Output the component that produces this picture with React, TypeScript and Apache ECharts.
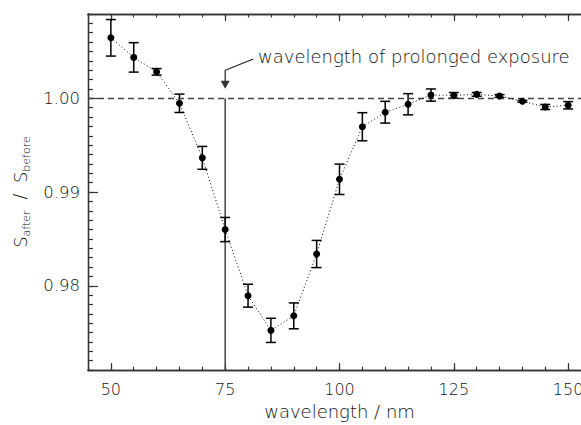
import React, { useEffect, useRef } from "react";
import * as echarts from "echarts";

const wavelengths = [50, 55, 60, 65, 70, 75, 80, 85, 90, 95, 100, 105, 110, 115, 120, 125, 130, 135, 140, 145, 150];
const ratio = [1.00646, 1.00437, 1.00283, 0.99947, 0.99365, 0.986, 0.97894, 0.97524, 0.97679, 0.98339, 0.99136, 0.99697, 0.99852, 0.99937, 1.00035, 1.00032, 1.00042, 1.00025, 0.99968, 0.99908, 0.99926];
const ratioErr = [0.00195, 0.00157, 0.00035, 0.00098, 0.00122, 0.00129, 0.00122, 0.00129, 0.00138, 0.00145, 0.00162, 0.0015, 0.00116, 0.00113, 0.00065, 0.0003, 0.0002, 0.00015, 0.0001, 0.00027, 0.00039];

const xMajorTicks = [50, 75, 100, 125, 150];
const xMinorTicks = [45, 50, 55, 60, 65, 70, 75, 80, 85, 90, 95, 100, 105, 110, 115, 120, 125, 130, 135, 140, 145, 150, 155];
const yMajorTicks = [0.98, 0.99, 1.0];
const yMinorTicks = Array.from({ length: 39 }, (_, i) => (971 + i) / 1000);

const exposureWavelength = 75;
const referenceRatio = 1.0;
const annotationText = "wavelength of prolonged exposure";

const X_MIN = 45, X_MAX = 155, Y_MIN = 0.971, Y_MAX = 1.009;
const FONT = "DejaVu Sans";
const AXIS_COLOR = "#333";
const TEXT_COLOR = "#111";

function xAxisDef(position: string, ticks: number[], len: number, labels: boolean) {
  return {
    type: "value", min: X_MIN, max: X_MAX, position,
    axisLine: { show: true, onZero: false, lineStyle: { color: AXIS_COLOR, width: 1.3 } },
    axisTick: { show: true, inside: true, length: len, customValues: ticks, lineStyle: { color: AXIS_COLOR, width: 1.2 } },
    axisLabel: labels
      ? { show: true, customValues: xMajorTicks, margin: 11, fontFamily: FONT, fontSize: 16, color: TEXT_COLOR, fontWeight: 200 }
      : { show: false },
    splitLine: { show: false },
  };
}
function yAxisDef(position: string, ticks: number[], len: number, labels: boolean) {
  return {
    type: "value", min: Y_MIN, max: Y_MAX, position,
    axisLine: { show: true, onZero: false, lineStyle: { color: AXIS_COLOR, width: 1.3 } },
    axisTick: { show: true, inside: true, length: len, customValues: ticks, lineStyle: { color: AXIS_COLOR, width: 1.2 } },
    axisLabel: labels
      ? { show: true, customValues: yMajorTicks, margin: 8, fontFamily: FONT, fontSize: 16.5, color: TEXT_COLOR, fontWeight: 200,
          formatter: (v: number) => v.toFixed(2) }
      : { show: false },
    splitLine: { show: false },
  };
}

export default function App() {
  const ref = useRef<HTMLDivElement>(null);
  useEffect(() => {
    if (!ref.current) return;
    const chart = echarts.init(ref.current, null, { renderer: "svg" });
    const points = wavelengths.map((w, i) => [w, ratio[i]]);
    const bars = wavelengths.map((w, i) => [w, ratio[i] - ratioErr[i], ratio[i] + ratioErr[i]]);
    const xAxes = [
      { ...xAxisDef("bottom", xMajorTicks, 7, true), name: "wavelength / nm", nameLocation: "middle", nameGap: 25,
        nameTextStyle: { fontFamily: FONT, fontSize: 18, color: TEXT_COLOR, fontWeight: 200, verticalAlign: "top" } },
      xAxisDef("bottom", xMinorTicks, 3.5, false),
      xAxisDef("top", xMajorTicks, 7, false),
      xAxisDef("top", xMinorTicks, 3.5, false),
    ];
    const yAxes = [
      { ...yAxisDef("left", yMajorTicks, 10, true),
        name: "{s|S}{sub|after}{sl|  /  }{s|S}{sub|before}", nameLocation: "middle", nameGap: 50, nameRotate: 90,
        nameTextStyle: { fontFamily: FONT, color: TEXT_COLOR, fontWeight: 200,
          rich: {
            s: { fontFamily: FONT, fontSize: 18, color: TEXT_COLOR, fontWeight: 200, lineHeight: 24, verticalAlign: "middle" },
            sub: { fontFamily: FONT, fontSize: 11, color: TEXT_COLOR, fontWeight: 200, verticalAlign: "bottom", lineHeight: 24 },
            sl: { fontFamily: FONT, fontSize: 17, color: TEXT_COLOR, fontWeight: 200, lineHeight: 24 },
          } } },
      yAxisDef("left", yMinorTicks, 5, false),
      yAxisDef("right", yMajorTicks, 10, false),
      yAxisDef("right", yMinorTicks, 5, false),
    ];
    chart.setOption({
      animation: false,
      backgroundColor: "#fff",
      grid: { left: 88, top: 14, right: 9, bottom: 53, containLabel: false },
      xAxis: xAxes,
      yAxis: yAxes,
      series: [
        {
          type: "line", name: "ratio", data: points, xAxisIndex: 0, yAxisIndex: 0,
          symbol: "circle", symbolSize: 7, z: 5,
          itemStyle: { color: "#000" },
          lineStyle: { color: "#000", width: 1, type: [1, 2.5] },
          markLine: {
            silent: true, symbol: ["none", "none"], label: { show: false },
            lineStyle: { color: "#444", width: 1.3, type: [6, 4] },
            data: [{ yAxis: referenceRatio }],
          },
        },
        {
          type: "custom", name: "error", data: bars, xAxisIndex: 0, yAxisIndex: 0, z: 4,
          renderItem: (params: any, api: any) => {
            const x = api.value(0);
            const lo = api.coord([x, api.value(1)]);
            const hi = api.coord([x, api.value(2)]);
            const hw = 5;
            const st = { stroke: "#000", lineWidth: 1.5 };
            return {
              type: "group",
              children: [
                { type: "line", shape: { x1: hi[0], y1: hi[1], x2: lo[0], y2: lo[1] }, style: st },
                { type: "line", shape: { x1: hi[0] - hw, y1: hi[1], x2: hi[0] + hw, y2: hi[1] }, style: st },
                { type: "line", shape: { x1: lo[0] - hw, y1: lo[1], x2: lo[0] + hw, y2: lo[1] }, style: st },
              ],
            };
          },
        },
        {
          type: "line", name: "exposure", xAxisIndex: 0, yAxisIndex: 0, symbol: "none", silent: true,
          data: [[exposureWavelength, Y_MIN], [exposureWavelength, referenceRatio]],
          lineStyle: { color: "#444", width: 1.5 },
        },
        {
          type: "line", name: "leader", xAxisIndex: 0, yAxisIndex: 0, symbol: "none", silent: true,
          data: [[exposureWavelength, 1.00183], [exposureWavelength, 1.003], [81.15, 1.0042]],
          lineStyle: { color: "#222", width: 1.2 },
        },
        {
          type: "scatter", name: "arrow", xAxisIndex: 0, yAxisIndex: 0, silent: true,
          symbol: "triangle", symbolRotate: 180, symbolSize: [9, 8],
          data: [[exposureWavelength, 1.00145]],
          itemStyle: { color: "#000" },
        },
      ],
      graphic: [
        {
          type: "text", left: 258, top: 47, silent: true,
          style: { text: annotationText, fontFamily: FONT, fontSize: 18, fill: TEXT_COLOR, fontWeight: 200 },
        },
      ],
    });
    return () => chart.dispose();
  }, []);
  return (
    <div style={{ position: "absolute", left: 0, top: 0, width: 581, height: 425, overflow: "hidden", background: "#fff" }}>
      <div ref={ref} style={{ width: 600, height: 425 }} />
    </div>
  );
}
